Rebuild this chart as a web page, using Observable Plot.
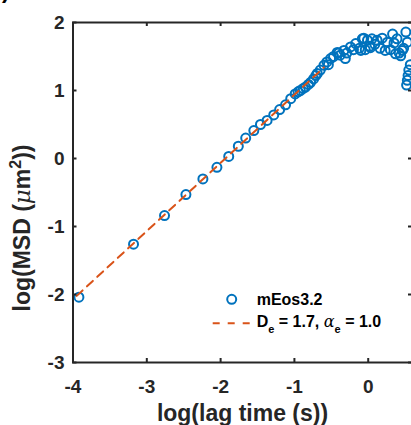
<!DOCTYPE html>
<html><head><meta charset="utf-8">
<script src="https://cdn.jsdelivr.net/npm/d3@7"></script>
<script src="https://cdn.jsdelivr.net/npm/@observablehq/plot@0.6"></script>
<style>
body{margin:0;background:#fff;overflow:hidden}
#chart{position:relative;width:411px;height:425px;overflow:hidden}
</style>
</head><body><div id="chart"></div>
<script>
// log10 lag time (s) and log10 MSD (um^2) of the mEos3.2 data
const lagLog = [-3.92,-3.18,-2.76,-2.47,-2.24,-2.05,-1.89,-1.76,-1.66,-1.55,-1.46,-1.37,-1.28,-1.20,-1.12,-1.05,-0.99,-0.95,-0.92,-0.88,-0.85,-0.81,-0.78,-0.74,-0.71,-0.69,-0.65,-0.60,-0.56,-0.54,-0.51,-0.47,-0.42,-0.40,-0.38,-0.33,-0.31,-0.29,-0.24,-0.20,-0.17,-0.12,-0.10,-0.08,-0.06,-0.04,-0.01,0.02,0.03,0.05,0.09,0.12,0.16,0.19,0.23,0.26,0.30,0.33,0.35,0.37,0.39,0.42,0.44,0.46,0.48,0.51,0.53,0.52,0.53,0.54,0.55,0.57];
const msdLog = [-2.04,-1.26,-0.84,-0.53,-0.30,-0.13,0.03,0.18,0.30,0.41,0.50,0.56,0.64,0.72,0.79,0.88,0.95,0.98,1.00,1.03,1.05,1.09,1.12,1.17,1.22,1.25,1.30,1.37,1.42,1.38,1.47,1.50,1.56,1.55,1.52,1.59,1.47,1.55,1.64,1.60,1.69,1.62,1.59,1.76,1.77,1.60,1.74,1.65,1.63,1.76,1.68,1.74,1.62,1.77,1.59,1.71,1.60,1.83,1.70,1.54,1.76,1.55,1.51,1.59,1.62,1.86,1.71,1.08,1.15,1.22,1.30,1.38];
// fitted line endpoints (D_e = 1.7, alpha_e = 1.0)
const fitLagLog = [-3.95, -0.60];
const fitMsdLog = [-2.02, 1.34];
const xTicks = [-4,-3,-2,-1,0];
const yTicks = [-3,-2,-1,0,1,2];
const seriesName = "mEos3.2";
const fitD = "1.7", fitAlpha = "1.0";

const pts = lagLog.map((x,i)=>({x, y: msdLog[i]}));
const fit = fitLagLog.map((x,i)=>({x, y: fitMsdLog[i]}));

const W = 411, H = 425, mL = 72.5, mR = -1, mT = 22, mB = 63;
const fw = W - mR - mL, fh = H - mT - mB;
const ink = "#262626";
const fmt = d => String(d);

const plot = Plot.plot({
  width: W, height: H,
  marginLeft: mL, marginRight: mR, marginTop: mT, marginBottom: mB,
  style: {fontFamily: "'Liberation Sans', Arial, sans-serif", color: ink, background: "#fff", overflow: "hidden"},
  x: {domain: [-4, 0.6]},
  y: {domain: [-3, 2]},
  marks: [
    Plot.dot(pts, {x: "x", y: "y", r: 4.5, stroke: "#0072BD", strokeWidth: 2, fill: "none"}),
    Plot.line(fit, {x: "x", y: "y", stroke: "#D95319", strokeWidth: 2, strokeDasharray: "8,6"}),
    Plot.tickX(xTicks, {x: d=>d, stroke: ink, strokeWidth: 2, insetTop: fh - 4}),
    Plot.tickX(xTicks, {x: d=>d, stroke: ink, strokeWidth: 2, insetBottom: fh - 4}),
    Plot.tickY(yTicks, {y: d=>d, stroke: ink, strokeWidth: 2, insetRight: fw - 4}),
    Plot.tickY(yTicks, {y: d=>d, stroke: ink, strokeWidth: 2, insetLeft: fw - 4}),
    Plot.frame({stroke: ink, strokeWidth: 2}),
    Plot.axisX({ticks: xTicks, tickFormat: fmt, tickSize: 0, tickPadding: 16.5, fontSize: 19, fontWeight: "bold", label: null, fill: ink}),
    Plot.axisY({ticks: yTicks, tickFormat: fmt, tickSize: 0, tickPadding: 8.5, fontSize: 19, fontWeight: "bold", label: null, fill: ink})
  ]
});
document.getElementById("chart").appendChild(plot);

const svg = d3.select(plot);
const bold = "'Liberation Sans', Arial, sans-serif";
const greek = "'DejaVu Serif', 'Liberation Serif', serif";

// x label
svg.append("text").attr("x", 242.5).attr("y", 421).attr("text-anchor", "middle")
  .attr("font-family", bold).attr("font-weight", "bold").attr("font-size", 23).attr("fill", ink)
  .text("log(lag time (s))");

// y label
const yl = svg.append("text").attr("transform", "translate(30,228) rotate(-90)").attr("text-anchor", "middle")
  .attr("font-family", bold).attr("font-weight", "bold").attr("font-size", 23).attr("fill", ink);
yl.append("tspan").text("log(MSD (");
yl.append("tspan").attr("font-family", greek).attr("font-style", "italic").attr("font-weight", "normal").text("\u03BC");
yl.append("tspan").text("m");
yl.append("tspan").attr("font-size", 16).attr("dy", -9).text("2");
yl.append("tspan").attr("dy", 9).text("))");

// clipped panel letter fragment
svg.append("text").attr("x", 2).attr("y", -2).attr("text-anchor", "start").attr("font-family", bold).attr("font-weight", "bold")
  .attr("font-size", 23).attr("fill", "#000").text(")");

// legend
const lg = svg.append("g").attr("font-family", bold).attr("font-weight", "bold").attr("font-size", 16)
  .attr("fill", "#000").attr("text-anchor", "start");
lg.append("circle").attr("cx", 231.7).attr("cy", 299.3).attr("r", 4.5).attr("fill", "none").attr("stroke", "#0072BD").attr("stroke-width", 2);
lg.append("text").attr("x", 256.7).attr("y", 305).text(seriesName);
lg.append("line").attr("x1", 212.7).attr("x2", 253).attr("y1", 323.3).attr("y2", 323.3)
  .attr("stroke", "#D95319").attr("stroke-width", 2).attr("stroke-dasharray", "7,8");
const t2 = lg.append("text").attr("x", 256.7).attr("y", 327.3);
t2.append("tspan").text("D");
t2.append("tspan").attr("font-size", 11).attr("dy", 5.5).text("e");
t2.append("tspan").attr("dy", -5.5).text(" = " + fitD + ", ");
t2.append("tspan").attr("font-family", greek).attr("font-style", "italic").attr("font-weight", "normal").text("\u03B1");
t2.append("tspan").attr("font-size", 11).attr("dy", 5.5).text("e");
t2.append("tspan").attr("dy", -5.5).text(" = " + fitAlpha);
</script>
</body></html>
